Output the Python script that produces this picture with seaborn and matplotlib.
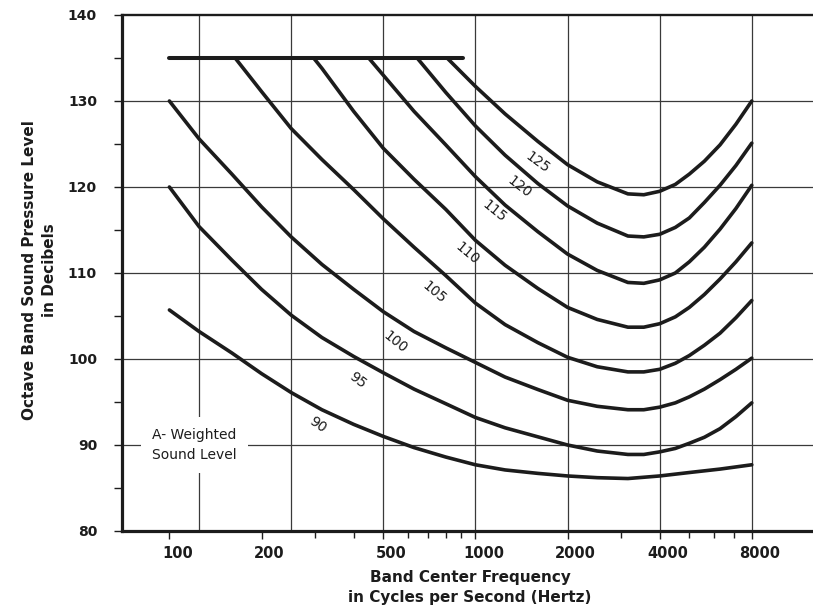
import matplotlib
matplotlib.use("Agg")
import matplotlib.pyplot as plt
import matplotlib.transforms as mtransforms
from matplotlib.ticker import FixedLocator, FixedFormatter, NullFormatter
import numpy as np
import pandas as pd
import seaborn as sns

# ---------------- data (octave band level, dB, vs Hz) ----------------
c90_freq = [100, 125, 160, 200, 250, 315, 400, 500, 630, 800, 1000, 1250, 1600, 2000,
            2500, 3150, 4000, 5000, 6300, 8000]
c90_level = [105.7, 103.2, 100.7, 98.3, 96.1, 94.1, 92.4, 91.0, 89.7, 88.6, 87.7, 87.1,
             86.7, 86.4, 86.2, 86.1, 86.4, 86.8, 87.2, 87.7]

c95_freq = [100, 125, 160, 200, 250, 315, 400, 500, 630, 800, 1000, 1250, 1600, 2000,
            2500, 3150, 3550, 4000, 4500, 5000, 5600, 6300, 7100, 8000]
c95_level = [120.0, 115.4, 111.5, 108.1, 105.1, 102.5, 100.3, 98.4, 96.5, 94.8, 93.2, 92.0,
             90.95, 90.0, 89.3, 88.9, 88.9, 89.2, 89.6, 90.2, 90.9, 91.9, 93.3, 94.9]

c100_freq = [100, 125, 160, 200, 250, 315, 400, 500, 630, 800, 1000, 1250, 1600, 2000,
             2500, 3150, 3550, 4000, 4500, 5000, 5600, 6300, 7100, 8000]
c100_level = [130.0, 125.6, 121.5, 117.7, 114.2, 111.0, 108.1, 105.5, 103.2, 101.3, 99.6,
              97.9, 96.45, 95.2, 94.5, 94.1, 94.1, 94.4, 94.9, 95.6, 96.5, 97.6, 98.8, 100.1]

c105_freq = [164, 200, 250, 315, 400, 500, 630, 800, 1000, 1250, 1600, 2000, 2500, 3150,
             3550, 4000, 4500, 5000, 5600, 6300, 7100, 8000]
c105_level = [135.0, 131.1, 126.8, 123.2, 119.7, 116.3, 113.0, 109.7, 106.5, 104.0, 101.9,
              100.2, 99.1, 98.5, 98.5, 98.8, 99.5, 100.4, 101.6, 103.0, 104.8, 106.8]

c110_freq = [296, 315, 400, 500, 630, 800, 1000, 1250, 1600, 2000, 2500, 3150, 3550, 4000,
             4500, 5000, 5600, 6300, 7100, 8000]
c110_level = [135.0, 133.8, 128.8, 124.5, 120.9, 117.4, 113.8, 110.9, 108.2, 106.0, 104.6,
              103.7, 103.7, 104.1, 104.9, 106.0, 107.5, 109.3, 111.3, 113.5]

c115_freq = [448, 500, 630, 800, 1000, 1250, 1600, 2000, 2500, 3150, 3550, 4000, 4500, 5000,
             5600, 6300, 7100, 8000]
c115_level = [135.0, 133.0, 128.8, 124.9, 121.2, 117.9, 114.8, 112.2, 110.3, 108.9, 108.8,
              109.2, 110.0, 111.3, 113.0, 115.1, 117.5, 120.2]

c120_freq = [645, 800, 1000, 1250, 1600, 2000, 2500, 3150, 3550, 4000, 4500, 5000, 5600,
             6300, 7100, 8000]
c120_level = [135.0, 131.0, 127.1, 123.7, 120.4, 117.8, 115.8, 114.3, 114.2, 114.5, 115.3,
              116.4, 118.2, 120.2, 122.5, 125.1]

c125_freq = [808, 1000, 1250, 1600, 2000, 2500, 3150, 3550, 4000, 4500, 5000, 5600, 6300,
             7100, 8000]
c125_level = [135.0, 131.7, 128.5, 125.3, 122.6, 120.6, 119.2, 119.1, 119.5, 120.3, 121.5,
              123.0, 124.9, 127.3, 130.0]

cap_freq = [100, 910]
cap_level = [135, 135]

curve_names = ["90", "95", "100", "105", "110", "115", "120", "125"]
curve_freqs = [c90_freq, c95_freq, c100_freq, c105_freq, c110_freq, c115_freq, c120_freq, c125_freq]
curve_levels = [c90_level, c95_level, c100_level, c105_level, c110_level, c115_level,
                c120_level, c125_level]

# curve label positions (freq, level, rotation)
label_freq = [305, 411, 547, 734, 941, 1150, 1390, 1600]
label_level = [92.3, 97.5, 102.0, 107.7, 112.3, 117.2, 120.0, 122.9]
label_rot = [-35, -38, -39, -40, -40, -39, -38, -36]

grid_freqs = [125, 250, 500, 1000, 2000, 4000, 8000]
grid_levels = [90, 100, 110, 120, 130]
xtick_freqs = [100, 200, 500, 1000, 2000, 4000, 8000]
xtick_labels = ["100", "200", "500", "1000", "2000", "4000", "8000"]
xminor_freqs = [300, 400, 600, 700, 800, 900, 3000, 5000, 6000, 7000]
ytick_levels = [80, 90, 100, 110, 120, 130, 140]
yminor_levels = [85, 95, 105, 115, 125, 135]

# ---------------- build long table ----------------
rows = []
for name, fs, ls in zip(curve_names, curve_freqs, curve_levels):
    for f, l in zip(fs, ls):
        rows.append({"curve": name, "freq": f, "level": l})
df = pd.DataFrame(rows)
cap_df = pd.DataFrame({"freq": cap_freq, "level": cap_level})

# ---------------- figure ----------------
sns.set_theme(style="white")
plt.rcParams["font.family"] = ["DejaVu Sans"]

ink = "#1c1c1c"
fig = plt.figure(figsize=(8.13, 6.15), dpi=100)
ax = fig.add_axes([122 / 813, 1 - 531 / 615, 1 - 122 / 813, (531 - 15) / 615])
ax.set_xscale("log")

for f in grid_freqs:
    ax.axvline(f, color="#3a3a3a", lw=0.9, zorder=0)
for y in grid_levels:
    ax.axhline(y, color="#3a3a3a", lw=0.9, zorder=0)

palette = {n: ink for n in curve_names}
sns.lineplot(data=df, x="freq", y="level", hue="curve", palette=palette,
             estimator=None, sort=True, legend=False, linewidth=2.6,
             solid_capstyle="round", solid_joinstyle="round", ax=ax, zorder=3)
sns.lineplot(data=cap_df, x="freq", y="level", color=ink, linewidth=2.9,
             estimator=None, solid_capstyle="round", ax=ax, zorder=3)

for name, f, l, r in zip(curve_names, label_freq, label_level, label_rot):
    ax.text(f, l, name, rotation=r, ha="center", va="center", fontsize=10,
            color=ink, rotation_mode="anchor", zorder=4)

ax.text(88, 90, "A- Weighted\nSound Level", ha="left", va="center", fontsize=10,
        color=ink, linespacing=1.6, zorder=2,
        bbox=dict(boxstyle="square,pad=0.8", fc="white", ec="none"))

ax.set_xlim(70, 12680)
ax.set_ylim(80, 140)

ax.xaxis.set_major_locator(FixedLocator(xtick_freqs))
ax.xaxis.set_major_formatter(FixedFormatter(xtick_labels))
ax.xaxis.set_minor_locator(FixedLocator(xminor_freqs))
ax.xaxis.set_minor_formatter(NullFormatter())
ax.yaxis.set_major_locator(FixedLocator(ytick_levels))
ax.yaxis.set_minor_locator(FixedLocator(yminor_levels))
ax.yaxis.set_minor_formatter(NullFormatter())

ax.tick_params(axis="x", which="major", direction="out", length=6, width=1.0,
               color=ink, pad=5, labelsize=10.5, labelcolor=ink)
ax.tick_params(axis="x", which="minor", direction="out", length=5, width=1.0, color=ink)
ax.tick_params(axis="y", which="both", direction="out", length=6, width=1.0,
               color=ink, pad=12, labelsize=10, labelcolor=ink)
ax.tick_params(left=True, bottom=True, which="both")

for lbl in ax.get_xticklabels() + ax.get_yticklabels():
    lbl.set_fontweight("bold")
offset = mtransforms.ScaledTranslation(8 / 100, 0, fig.dpi_scale_trans)
for tick in ax.xaxis.get_major_ticks():
    tick.label1.set_transform(tick.label1.get_transform() + offset)

for side in ["left", "bottom"]:
    ax.spines[side].set_linewidth(2.3)
    ax.spines[side].set_color(ink)
ax.spines["top"].set_linewidth(1.7)
ax.spines["top"].set_color(ink)
ax.spines["right"].set_visible(False)

ax.set_xlabel("Band Center Frequency\nin Cycles per Second (Hertz)", fontsize=11,
              fontweight="bold", color=ink, linespacing=1.45)
ax.xaxis.set_label_coords((470 - 122) / 691, (531 - 570) / 516)
ax.set_ylabel("Octave Band Sound Pressure Level\nin Decibels", fontsize=11,
              fontweight="bold", color=ink, linespacing=1.45)
ax.yaxis.set_label_coords((57 - 122) / 691, (531 - 270) / 516)

fig.savefig("out.png", dpi=100)
